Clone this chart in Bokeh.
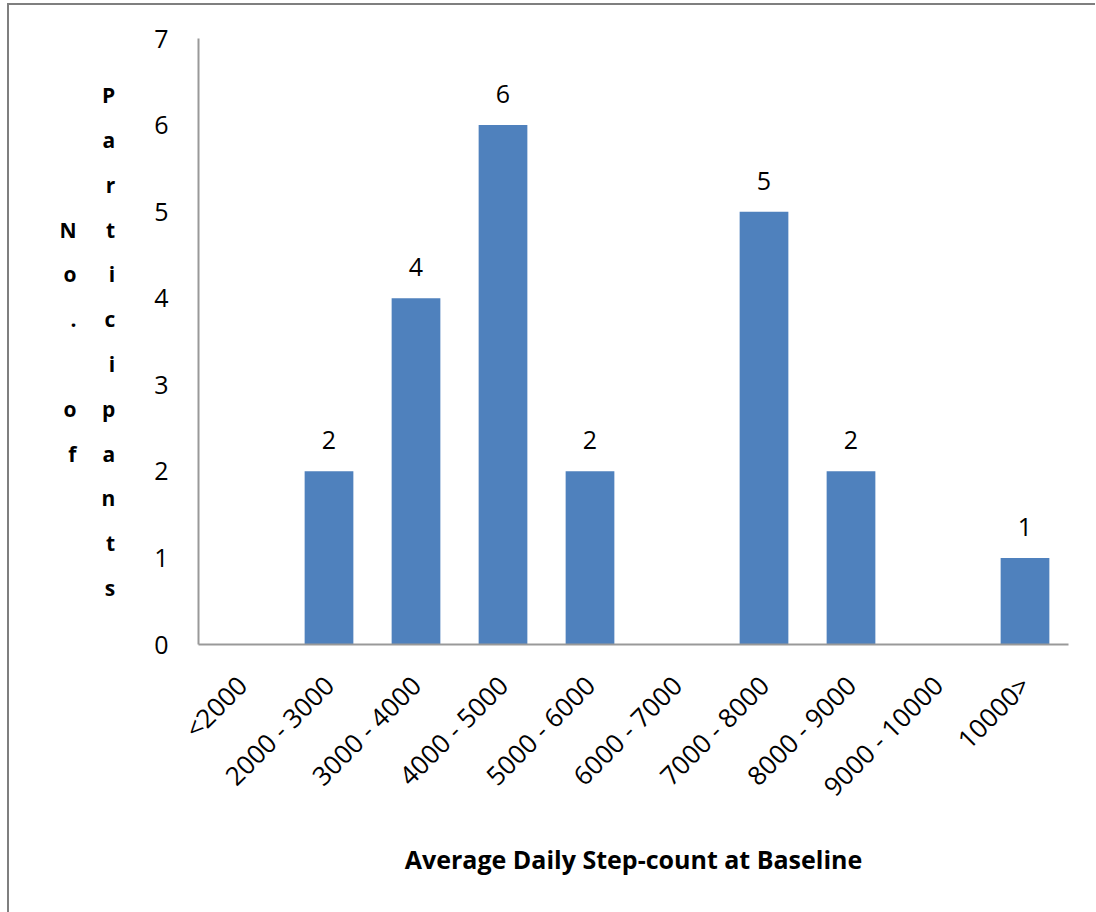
from math import pi

from bokeh.embed import file_html
from bokeh.models import (ColumnDataSource, FactorRange, FixedTicker, Label,
                          LinearAxis, Range1d)
from bokeh.plotting import figure
from bokeh.resources import INLINE

# Step-count bands and participant counts
bands = ["<2000", "2000 - 3000", "3000 - 4000", "4000 - 5000", "5000 - 6000",
         "6000 - 7000", "7000 - 8000", "8000 - 9000", "9000 - 10000", "10000>"]
counts = [0, 2, 4, 6, 2, 0, 5, 2, 0, 1]
y_ticks = [0, 1, 2, 3, 4, 5, 6, 7]

FONT = "Open Sans"
BAR_BLUE = "#4F81BD"
AXIS_GREY = "#999999"

src = ColumnDataSource(dict(band=bands, count=counts))

p = figure(width=1088, height=909, x_range=FactorRange(*bands),
           y_range=Range1d(0, 7), output_backend="svg", toolbar_location=None,
           min_border_left=189, min_border_right=29, min_border_top=33,
           min_border_bottom=270,
           styles={"margin-left": "7px", "margin-top": "3px",
                   "border-left": "2px solid #7f7f7f",
                   "border-top": "2px solid #7f7f7f"})
p.outline_line_color = None
p.grid.visible = False
p.background_fill_color = "white"
p.border_fill_color = "white"

p.vbar(x="band", top="count", width=0.56, source=src,
       fill_color=BAR_BLUE, line_color=None)

# value labels above bars
for i, c in enumerate(counts):
    if c > 0:
        p.add_layout(Label(x=i + 0.5, y=c, text=str(c),
                           text_align="center", text_baseline="alphabetic",
                           y_offset=31, text_font=FONT, text_font_size="25px",
                           text_color="black"))

# y axis (its label is the "Participants" column)
yax = p.yaxis[0]
yax.ticker = FixedTicker(ticks=y_ticks)
yax.major_tick_line_color = None
yax.minor_tick_line_color = None
yax.axis_line_color = AXIS_GREY
yax.axis_line_width = 2
yax.major_label_standoff = 24
yax.major_label_text_font = FONT
yax.major_label_text_font_size = "25px"
yax.major_label_text_color = "black"
yax.axis_label = "\n".join("Participants")
yax.axis_label_orientation = "horizontal"
yax.axis_label_standoff = 36
yax.axis_label_text_font = FONT
yax.axis_label_text_font_style = "bold"
yax.axis_label_text_font_size = "21px"
yax.axis_label_text_line_height = 1.6
yax.axis_label_text_color = "black"

# second, tick-less axis carrying the "No. of" column
yax2 = LinearAxis(ticker=FixedTicker(ticks=[]))
yax2.axis_line_color = None
yax2.major_tick_line_color = None
yax2.minor_tick_line_color = None
yax2.major_label_text_font_size = "0px"
yax2.axis_label = "\n".join("No. of")
yax2.axis_label_orientation = "horizontal"
yax2.axis_label_standoff = 22
yax2.axis_label_text_font = FONT
yax2.axis_label_text_font_style = "bold"
yax2.axis_label_text_font_size = "21px"
yax2.axis_label_text_line_height = 1.6
yax2.axis_label_text_color = "black"
p.add_layout(yax2, "left")

# x axis
xax = p.xaxis[0]
xax.major_tick_line_color = None
xax.axis_line_color = AXIS_GREY
xax.axis_line_width = 2
xax.major_label_orientation = pi / 4
xax.major_label_standoff = 30
xax.major_label_text_font = FONT
xax.major_label_text_font_size = "26px"
xax.major_label_text_color = "black"
xax.axis_label = "Average Daily Step-count at Baseline"
xax.axis_label_text_font = FONT
xax.axis_label_text_font_style = "bold"
xax.axis_label_text_font_size = "25px"
xax.axis_label_text_color = "black"
xax.axis_label_standoff = 23

open("out.html", "w").write(file_html(p, INLINE))
